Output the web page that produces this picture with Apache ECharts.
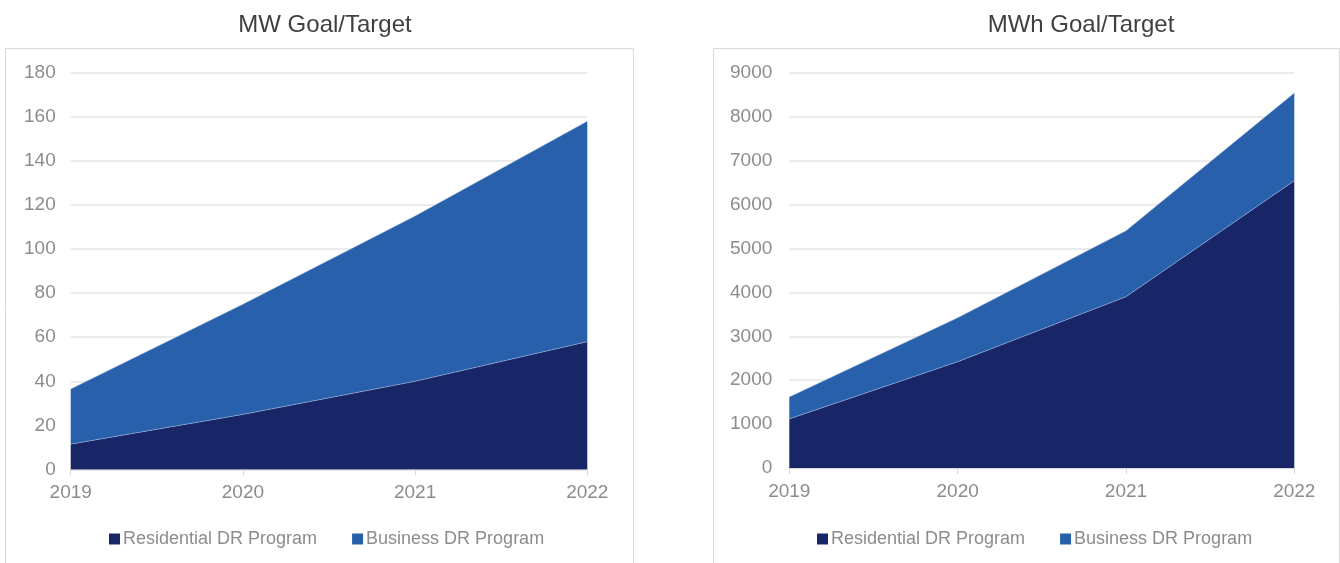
<!DOCTYPE html>
<html>
<head>
<meta charset="utf-8">
<title>DR Program Goals</title>
<script src="https://cdn.jsdelivr.net/npm/echarts@6/dist/echarts.min.js"></script>
<style>
  html, body { margin: 0; padding: 0; background: #ffffff; }
  #chart { width: 1340px; height: 563px; }
</style>
</head>
<body>
<div id="chart"></div>
<script>
// Program years
var years = ['2019', '2020', '2021', '2022'];

// MW goal/target by program
var mwResidential = [11.5, 25, 40, 58];
var mwBusiness = [25, 50, 75, 100];

// MWh goal/target by program
var mwhResidential = [1120, 2420, 3900, 6540];
var mwhBusiness = [500, 1000, 1500, 2000];

var seriesNames = ['Residential DR Program', 'Business DR Program'];
var chartTitles = ['MW Goal/Target', 'MWh Goal/Target'];

var COLOR_RES = '#182668';
var COLOR_BUS = '#2860ab';
var TEXT_GREY = '#8c8c8c';
var GRID_GREY = '#e4e4e4';
var FONT = '"Liberation Sans", Arial, sans-serif';

function xAxisFor(gridIndex) {
  return {
    type: 'category',
    gridIndex: gridIndex,
    data: years,
    boundaryGap: false,
    axisLine: { show: true, lineStyle: { color: '#d9d9d9', width: 1 } },
    axisTick: { show: true, alignWithLabel: true, length: 6, lineStyle: { color: '#d9d9d9' } },
    axisLabel: { color: TEXT_GREY, fontSize: 19, fontFamily: FONT, margin: 14 },
    splitLine: { show: false }
  };
}

function yAxisFor(gridIndex, max, interval, margin) {
  return {
    type: 'value',
    gridIndex: gridIndex,
    min: 0,
    max: max,
    interval: interval,
    axisLine: { show: false },
    axisTick: { show: false },
    axisLabel: {
      color: TEXT_GREY, fontSize: 19, fontFamily: FONT, margin: margin,
      formatter: function (v) { return String(v); }
    },
    splitLine: { show: true, lineStyle: { color: GRID_GREY, width: 1.5 } }
  };
}

function areaSeries(name, data, color, idx, stack) {
  return {
    name: name,
    type: 'line',
    xAxisIndex: idx,
    yAxisIndex: idx,
    stack: stack,
    data: data,
    symbol: 'none',
    lineStyle: { width: 0.6, color: 'rgba(170,190,225,0.9)' },
    areaStyle: { color: color, opacity: 1 },
    itemStyle: { color: color },
    emphasis: { disabled: true },
    z: 2
  };
}

function legendFor(left) {
  return {
    left: left,
    top: 525,
    icon: 'rect',
    itemWidth: 11,
    itemHeight: 11,
    itemGap: 35,
    textStyle: { color: TEXT_GREY, fontSize: 18, fontFamily: FONT, padding: [0, 0, 0, -2] },
    data: seriesNames
  };
}

var chart = echarts.init(document.getElementById('chart'), null, { renderer: 'canvas' });

var option = {
  backgroundColor: '#ffffff',
  animation: false,
  graphic: [
    { type: 'rect', shape: { x: 5.5, y: 48.5, width: 628, height: 540 },
      style: { fill: 'none', stroke: '#d9d9d9', lineWidth: 1 }, z: -1 },
    { type: 'rect', shape: { x: 713.5, y: 48.5, width: 626, height: 540 },
      style: { fill: 'none', stroke: '#d9d9d9', lineWidth: 1 }, z: -1 }
  ],
  title: [
    { text: chartTitles[0], left: 320, top: 8, textAlign: 'center',
      textStyle: { color: '#404040', fontSize: 24, fontWeight: 'normal', fontFamily: FONT } },
    { text: chartTitles[1], left: 1076, top: 8, textAlign: 'center',
      textStyle: { color: '#404040', fontSize: 24, fontWeight: 'normal', fontFamily: FONT } }
  ],
  legend: [
    legendFor(104),
    legendFor(812)
  ],
  grid: [
    { left: 70.7, right: 752.7, top: 72.7, bottom: 93.5, containLabel: false },
    { left: 789.3, right: 45.7, top: 72.7, bottom: 94.9, containLabel: false }
  ],
  xAxis: [xAxisFor(0), xAxisFor(1)],
  yAxis: [yAxisFor(0, 180, 20, 15), yAxisFor(1, 9000, 1000, 17)],
  series: [
    areaSeries(seriesNames[0], mwResidential, COLOR_RES, 0, 'mw'),
    areaSeries(seriesNames[1], mwBusiness, COLOR_BUS, 0, 'mw'),
    areaSeries(seriesNames[0], mwhResidential, COLOR_RES, 1, 'mwh'),
    areaSeries(seriesNames[1], mwhBusiness, COLOR_BUS, 1, 'mwh')
  ]
};

chart.setOption(option);
</script>
</body>
</html>
